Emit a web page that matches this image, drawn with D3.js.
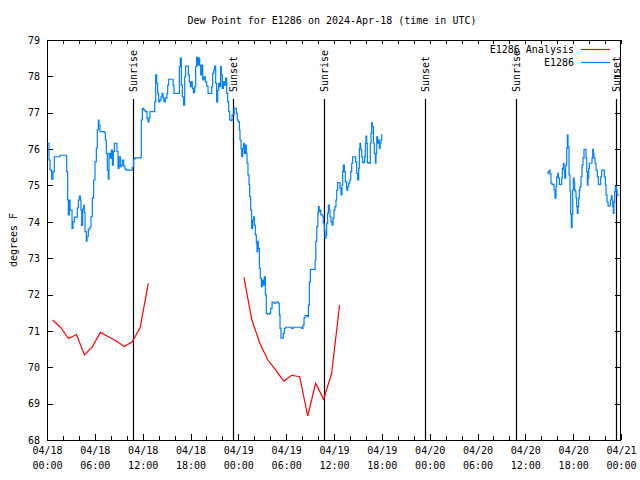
<!DOCTYPE html>
<html><head><meta charset="utf-8">
<script src="https://cdn.jsdelivr.net/npm/d3@7"></script>
<style>
body{margin:0;background:#fff}
text{font-family:"DejaVu Sans Mono","Liberation Mono",monospace;font-size:10px;fill:#000}
</style>
</head><body>
<svg id="chart" width="640" height="480"></svg>
<script>
const title = "Dew Point for E1286 on 2024-Apr-18 (time in UTC)";
const yAxisLabel = "degrees F";
const yTickValues = [68,69,70,71,72,73,74,75,76,77,78,79];
const seriesNames = ["E1286 Analysis", "E1286"];
const seriesColors = ["#ff0000", "#0080ff"];
const startTime = Date.UTC(2024,3,18,0,0);
const endTime = Date.UTC(2024,3,21,0,0);

// Sun events (hours after 04/18 00:00 UTC)
const sunHours  = [10.80, 23.35, 34.77, 47.36, 58.78, 71.40];
const sunLabels = ["Sunrise","Sunset","Sunrise","Sunset","Sunrise","Sunset"];

// Analysis series (hourly), null = gap
const analysisHours = [0.7,1.7,2.7,3.7,4.7,5.7,6.7,7.7,8.7,9.7,10.7,11.7,12.7, 18,
  24.7,25.7,26.7,27.7,28.7,29.7,30.7,31.7,32.7,33.7,34.7,35.7,36.7];
const analysisDew = [71.30,71.10,70.79,70.90,70.34,70.57,70.96,70.84,70.72,70.57,70.70,71.10,72.31, null,
  72.47,71.30,70.66,70.20,69.92,69.62,69.78,69.74,68.66,69.56,69.12,69.83,71.71];

// Observed station series, null = gap
const obsHours = [
 0.06,0.25,0.38,0.58,0.75,0.92,1.63,2.42,2.47,2.59,2.68,2.80,2.89,3.14,3.26,3.43,3.80,3.93,4.06,4.18,
 4.26,4.35,4.47,4.60,4.68,4.77,4.93,5.02,5.18,5.39,5.52,5.69,5.85,6.02,6.19,6.31,6.44,6.52,6.65,7.19,
 7.32,7.44,7.57,7.69,7.78,7.94,8.07,8.20,8.32,8.45,8.78,8.91,9.03,9.20,9.32,9.45,9.62,9.78,9.95,10.70,
 10.87,11.04,11.83,11.96,12.13,12.33,12.54,12.67,12.79,12.92,13.51,13.63,13.76,13.88,14.01,14.17,14.30,14.43,14.55,14.68,
 14.84,15.05,15.14,15.26,15.81,15.93,16.60,16.72,16.85,16.98,17.14,17.27,17.39,17.73,17.85,17.98,18.10,18.23,18.36,18.52,
 18.65,18.77,18.90,19.03,19.15,19.28,19.40,19.53,19.69,19.86,20.03,20.20,20.66,20.78,20.91,21.03,21.16,21.28,21.41,21.53,
 21.66,21.78,21.87,21.99,22.12,22.29,22.41,22.54,22.66,22.79,22.91,23.08,23.21,23.46,23.75,23.87,24.00,24.13,24.21,24.34,
 24.42,24.54,24.67,24.75,24.88,25.00,25.09,25.21,25.34,25.42,25.55,25.67,25.80,25.92,26.01,26.13,26.26,26.34,26.43,26.51,
 26.64,26.76,26.89,27.01,27.14,27.26,27.39,27.51,27.68,27.93,28.06,28.23,28.48,28.73,29.02,29.14,29.23,29.35,29.64,29.77,
 29.94,30.69,30.90,31.94,32.11,32.24,32.37,32.66,32.79,32.91,33.04,33.63,33.72,33.84,33.97,34.05,34.14,34.26,34.35,34.59,
 34.66,34.78,34.87,34.99,35.08,35.20,35.29,35.41,35.50,35.62,35.75,35.87,36.00,36.12,36.25,36.34,36.46,36.75,36.88,37.00,
 37.09,37.17,37.30,37.42,37.59,37.71,37.84,37.97,38.09,38.22,38.34,38.72,38.85,38.97,39.10,39.18,39.26,39.35,39.47,39.60,
 39.77,39.85,39.93,40.01,40.10,40.18,40.35,40.47,40.56,40.64,40.73,40.81,40.94,41.06,41.19,41.27,41.36,41.48,41.61,41.69,
 41.78,41.90,41.99,42.05, 52,
 62.76,62.89,63.01,63.10,63.22,63.35,63.60,63.72,63.85,63.93,64.06,64.14,64.27,64.56,64.64,64.77,64.85,64.94,65.06,65.19,
 65.27,65.35,65.48,65.60,65.69,65.77,65.86,65.94,66.02,66.11,66.19,66.27,66.36,66.44,66.52,66.61,66.69,66.77,66.86,66.98,
 67.11,67.24,67.36,67.61,67.70,67.78,67.86,67.95,68.03,68.36,68.45,68.53,68.61,68.74,68.87,69.03,69.16,69.45,69.58,69.91,
 70.04,70.12,70.25,70.37,70.66,70.79,70.87,70.96,71.04,71.12,71.21,71.29,71.42,71.50,71.75
];
const obsDew = [
 76.16,75.70,75.42,75.17,75.38,75.79,75.83,75.79,75.38,74.60,74.19,74.60,74.32,73.82,74.00,74.13,74.38,74.60,74.71,74.60,
 74.32,73.90,74.35,74.45,74.25,73.73,73.47,73.60,73.80,73.85,74.14,74.65,75.15,75.65,76.03,76.53,76.80,76.65,76.48,76.45,
 76.25,75.88,75.42,75.17,75.88,75.75,75.97,75.56,75.93,76.16,75.93,75.47,75.79,75.52,75.56,75.70,75.53,75.45,75.42,75.50,
 75.72,75.76,76.80,77.12,77.07,77.03,76.85,76.75,76.85,77.03,77.30,78.04,77.81,77.53,77.30,77.35,77.44,77.53,77.40,77.30,
 77.40,77.53,77.76,77.92,77.76,77.53,78.27,78.50,77.76,77.44,77.21,77.99,78.28,78.04,77.85,77.72,77.85,77.67,77.55,77.72,
 78.27,78.52,78.31,78.50,78.31,78.04,78.31,77.90,77.99,77.85,77.73,77.53,77.72,78.08,78.17,78.28,77.81,77.30,77.62,77.81,
 77.72,78.27,78.04,77.67,77.85,77.76,77.95,77.53,77.30,77.03,76.80,76.78,76.94,77.12,76.98,76.80,76.75,76.52,76.25,76.02,
 75.79,76.02,76.16,75.88,76.11,75.88,75.61,75.29,75.03,74.69,74.32,73.82,74.05,74.14,73.91,73.64,73.41,73.18,73.46,73.27,
 72.72,72.45,72.22,72.40,72.26,72.49,71.99,71.48,71.46,71.48,71.62,71.79,71.76,71.79,71.76,71.44,71.07,70.80,70.93,71.07,
 71.10,71.07,71.10,71.07,71.16,71.36,71.42,71.39,71.71,72.35,72.69,72.95,73.46,73.87,74.23,74.42,74.28,74.32,74.19,74.14,
 73.96,73.77,73.55,73.64,73.96,74.23,74.46,74.32,74.14,74.00,73.91,74.10,74.32,74.42,74.60,74.87,75.08,74.92,74.74,75.01,
 75.38,75.56,75.38,75.10,74.87,74.97,75.06,75.15,75.38,75.61,75.79,75.65,75.33,75.15,75.47,76.02,76.16,75.99,75.79,75.63,
 75.65,75.79,76.16,76.36,76.16,75.63,75.61,75.63,76.16,76.43,76.73,76.62,76.16,75.88,75.61,75.88,76.34,76.16,76.25,76.02,
 76.16,76.25,76.39,76.39, null,
 75.33,75.38,75.42,75.31,75.06,75.03,74.87,74.65,74.97,75.24,75.33,75.21,75.03,75.20,75.47,75.61,75.42,75.20,75.56,76.02,
 76.39,76.07,75.29,74.85,74.21,73.84,74.21,74.87,75.20,75.09,74.87,74.83,74.66,74.42,74.23,74.42,74.65,74.87,74.97,75.24,
 75.56,75.76,75.99,75.75,75.38,75.01,75.20,75.47,75.61,75.75,75.99,75.88,75.75,75.61,75.42,75.24,75.03,75.24,75.42,75.24,
 75.01,74.74,74.55,74.44,74.60,74.72,74.60,74.42,74.23,74.55,74.83,74.97,74.87,74.74,74.74
];

const toDate = h => new Date(startTime + h * 3600e3);
const svg = d3.select("#chart");
const L = 47, R = 621, T = 40, B = 440;

const x = d3.scaleUtc().domain([new Date(startTime), new Date(endTime)]).range([L, R]);
const y = d3.scaleLinear().domain([68, 79]).range([B, T]);

// Title
svg.append("text").attr("x", 332).attr("y", 23.5).attr("text-anchor", "middle").text(title);

// Y label
svg.append("text").attr("transform", "translate(13,240) rotate(-90)")
  .attr("text-anchor", "middle").attr("dy", "0.35em").text(yAxisLabel);

// Axes
const tickFmtDate = d3.utcFormat("%m/%d"), tickFmtTime = d3.utcFormat("%H:%M");
const gLeft = svg.append("g").attr("transform", `translate(${L},0)`)
  .call(d3.axisLeft(y).tickValues(yTickValues).tickSize(-6).tickPadding(7).tickFormat(d3.format("d")));
const gRight = svg.append("g").attr("transform", `translate(${R},0)`)
  .call(d3.axisRight(y).tickValues(yTickValues).tickSize(-6).tickFormat(""));
const gBottomMinor = svg.append("g").attr("transform", `translate(0,${B})`)
  .call(d3.axisBottom(x).ticks(d3.utcHour.every(2)).tickSize(-4).tickFormat(""));
const gBottom = svg.append("g").attr("transform", `translate(0,${B})`)
  .call(d3.axisBottom(x).ticks(d3.utcHour.every(6)).tickSize(-6).tickPadding(14).tickFormat(""));
const gTop = svg.append("g").attr("transform", `translate(0,${T})`)
  .call(d3.axisTop(x).ticks(d3.utcHour.every(2)).tickSize(-4).tickFormat(""));

gBottom.selectAll(".tick text").each(function(d) {
  const t = d3.select(this);
  t.append("tspan").attr("x", 0).attr("dy", 0).text(tickFmtDate(d));
  t.append("tspan").attr("x", 0).attr("dy", 14.5).text(tickFmtTime(d));
});

svg.selectAll(".domain").remove();
svg.selectAll(".tick line").attr("stroke", "#000").attr("shape-rendering", "crispEdges");
svg.selectAll(".tick text").attr("font-family", '"DejaVu Sans Mono","Liberation Mono",monospace').attr("font-size", 10).attr("fill", "#000");

// Frame
svg.append("rect").attr("x", L + 0.5).attr("y", T + 0.5).attr("width", R - L - 1).attr("height", B - T)
  .attr("fill", "none").attr("stroke", "#000").attr("shape-rendering", "crispEdges");

// Sun lines
sunHours.forEach((h, i) => {
  const px = Math.round(x(toDate(h))) + 0.5;
  svg.append("line").attr("x1", px).attr("x2", px).attr("y1", 99).attr("y2", B)
    .attr("stroke", "#000").attr("stroke-width", 1.2);
  svg.append("text").attr("transform", `translate(${px},92) rotate(-90)`)
    .attr("dy", "0.35em").attr("text-anchor", "start").text(sunLabels[i]);
});

// Series
const plot = svg.append("g");
const aData = analysisHours.map((h, i) => ({t: toDate(h), v: analysisDew[i]}));
const oData = obsHours.map((h, i) => ({t: toDate(h), v: obsDew[i]}));

plot.append("path").datum(aData)
  .attr("d", d3.line().defined(d => d.v != null).x(d => x(d.t)).y(d => y(d.v)))
  .attr("fill", "none").attr("stroke", seriesColors[0]).attr("stroke-width", 1.2);
plot.append("path").datum(oData)
  .attr("d", d3.line().defined(d => d.v != null).x(d => x(d.t)).y(d => y(d.v)).curve(d3.curveStepAfter))
  .attr("fill", "none").attr("stroke", seriesColors[1]).attr("stroke-width", 1.2);

// Legend
seriesNames.forEach((name, i) => {
  const ly = 49.5 + i * 13;
  svg.append("text").attr("x", 574).attr("y", ly).attr("dy", "0.35em").attr("text-anchor", "end").text(name);
  svg.append("line").attr("x1", 581).attr("x2", 610).attr("y1", ly).attr("y2", ly)
    .attr("stroke", seriesColors[i]).attr("stroke-width", 1.2);
});
</script>
</body></html>
